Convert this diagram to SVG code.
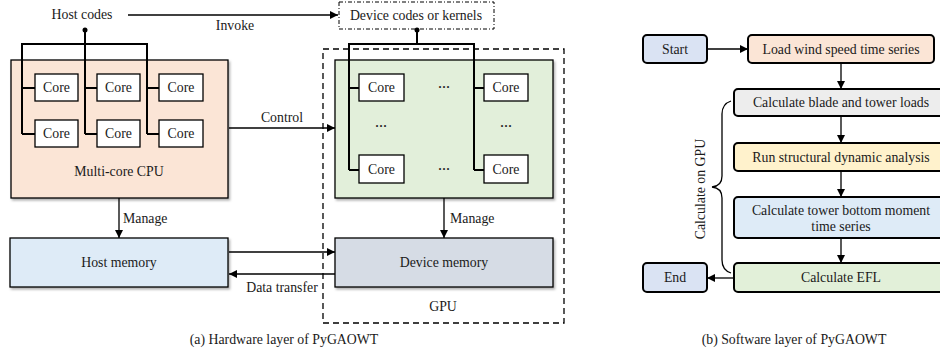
<svg xmlns="http://www.w3.org/2000/svg" width="940" height="353" viewBox="0 0 940 353">
<defs>
<marker id="ah" viewBox="0 0 10 10" refX="10" refY="5" markerWidth="8" markerHeight="8" markerUnits="userSpaceOnUse" orient="auto"><path d="M0,0 L10,5 L0,10 z" fill="#000"/></marker>
<filter id="sh" x="-5%" y="-5%" width="115%" height="120%"><feDropShadow dx="1.5" dy="2" stdDeviation="1" flood-color="#000" flood-opacity="0.3"/></filter>
<style>
text{font-family:"Liberation Serif","Times New Roman",serif;font-size:13.8px;fill:#1a1a1a}
.m{text-anchor:middle}
.box{stroke:#000;stroke-width:1.3}
.core{fill:#fff;stroke:#000;stroke-width:1.3}
.bus{fill:none;stroke:#000;stroke-width:2}
.ln{fill:none;stroke:#000;stroke-width:1.3}
.arr{fill:none;stroke:#000;stroke-width:1.3;marker-end:url(#ah)}
.rb{stroke:#000;stroke-width:2}
.dots{font-weight:bold;font-size:12px}
</style>
</defs>
<rect width="940" height="353" fill="#fff"/>

<g id="gpu-frame"><rect x="323" y="49" width="241" height="274" fill="none" stroke="#000" stroke-width="1.3" stroke-dasharray="6,4"/><text class="m" x="443" y="311">GPU</text></g>

<g id="cpu"><rect class="box" x="11" y="60" width="217" height="138" fill="#fbe5d6" filter="url(#sh)"/><text class="m" x="119" y="176">Multi-core CPU</text></g>
<g id="gpu-cores-box"><rect class="box" x="335" y="60" width="218" height="138" fill="#e2efda" filter="url(#sh)"/></g>
<g id="host-memory"><rect class="box" x="10" y="238" width="218" height="49" fill="#deebf7" filter="url(#sh)"/><text class="m" x="119" y="267">Host memory</text></g>
<g id="device-memory"><rect class="box" x="335" y="238" width="218" height="49" fill="#d6dce5" filter="url(#sh)"/><text class="m" x="444" y="267">Device memory</text></g>
<g id="host-codes"><text class="m" x="82" y="19">Host codes</text></g>
<g id="device-codes"><rect x="339" y="2" width="155" height="27" fill="#fff" stroke="#000" stroke-width="1" stroke-dasharray="4,2,1,2"/><text class="m" x="416" y="20">Device codes or kernels</text></g>

<g id="connectors">
<circle cx="85" cy="30" r="2.5"/>
<path class="bus" d="M85,30 V44 M22,134 V44 H147 V134 M85,44 V134 M22,88 H35 M85,88 H97 M147,88 H159 M22,134 H35 M85,134 H97 M147,134 H159"/>
<circle cx="417" cy="30" r="2.5"/>
<path class="bus" d="M417,30 V44 M349,170 V44 H474 V170 M349,88 H359 M474,88 H484 M349,170 H359 M474,170 H484"/>
<path class="arr" d="M128,15 H338"/>
<text class="m" x="235" y="30">Invoke</text>
<path class="arr" d="M229,128 H335"/>
<text class="m" x="282" y="122">Control</text>
<path class="arr" d="M119,198 V238"/>
<text x="123" y="223">Manage</text>
<path class="arr" d="M444,198 V238"/>
<text x="450" y="223">Manage</text>
<path class="arr" d="M229,252 H335"/>
<path class="arr" d="M335,274 H229"/>
<text class="m" x="282" y="292">Data transfer</text>

<path class="arr" d="M707,49 H748"/>
<path class="arr" d="M841,63 V89"/>
<path class="arr" d="M841,116 V143"/>
<path class="arr" d="M841,171 V197"/>
<path class="arr" d="M841,238 V263"/>
<path class="arr" d="M734,278 H707"/>
<path class="ln" d="M731,101 Q722,104 722,114 V176 Q722,186 712,187 Q722,188 722,198 V260 Q722,270 731,273"/>
</g>

<g id="cpu-cores">
<rect class="core" x="35" y="74" width="43" height="27"/><text class="m" x="56.5" y="92">Core</text>
<rect class="core" x="97" y="74" width="43" height="27"/><text class="m" x="118.5" y="92">Core</text>
<rect class="core" x="159" y="74" width="44" height="27"/><text class="m" x="181" y="92">Core</text>
<rect class="core" x="35" y="120" width="43" height="27"/><text class="m" x="56.5" y="138">Core</text>
<rect class="core" x="97" y="120" width="43" height="27"/><text class="m" x="118.5" y="138">Core</text>
<rect class="core" x="159" y="120" width="44" height="27"/><text class="m" x="181" y="138">Core</text>
</g>
<g id="gpu-cores">
<rect class="core" x="359" y="74" width="45" height="27"/><text class="m" x="381.5" y="92">Core</text>
<rect class="core" x="484" y="74" width="44" height="27"/><text class="m" x="506" y="92">Core</text>
<rect class="core" x="359" y="155" width="45" height="28"/><text class="m" x="381.5" y="174">Core</text>
<rect class="core" x="484" y="155" width="44" height="28"/><text class="m" x="506" y="174">Core</text>
<text class="m dots" x="444" y="91">···</text>
<text class="m dots" x="381" y="130">···</text>
<text class="m dots" x="506" y="130">···</text>
<text class="m dots" x="444" y="173">···</text>
</g>
<text class="m" x="284" y="344">(a) Hardware layer of PyGAOWT</text>

<g id="start"><rect class="rb" x="643" y="35" width="64" height="28" rx="4" fill="#dae3f3"/><text class="m" x="675" y="54">Start</text></g>
<g id="load"><rect class="rb" x="748" y="35" width="186" height="28" rx="4" fill="#fbe5d6"/><text class="m" x="841" y="54">Load wind speed time series</text></g>
<g id="calc-loads"><rect class="rb" x="734" y="89" width="214" height="27" rx="4" fill="#ededed"/><text class="m" x="841" y="107">Calculate blade and tower loads</text></g>
<g id="run"><rect class="rb" x="734" y="143" width="214" height="28" rx="4" fill="#fff2cc"/><text class="m" x="841" y="162">Run structural dynamic analysis</text></g>
<g id="calc-moment"><rect class="rb" x="734" y="197" width="214" height="41" rx="4" fill="#deebf7"/><text class="m" x="841" y="215">Calculate tower bottom moment</text><text class="m" x="841" y="231">time series</text></g>
<g id="efl"><rect class="rb" x="734" y="263" width="214" height="29" rx="4" fill="#e2f0d9"/><text class="m" x="841" y="282">Calculate EFL</text></g>
<g id="end"><rect class="rb" x="643" y="263" width="64" height="29" rx="4" fill="#dae3f3"/><text class="m" x="675" y="282">End</text></g>
<text class="m" transform="translate(705,189) rotate(-90)">Calculate on GPU</text>
<text class="m" x="794" y="344">(b) Software layer of PyGAOWT</text>
</svg>
